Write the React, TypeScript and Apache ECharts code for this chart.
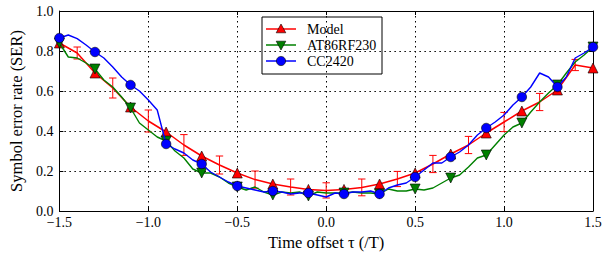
import React, { useEffect, useRef } from "react";
import * as echarts from "echarts";

// Model (every 0.1)
const modelTau = [-1.5, -1.4, -1.3, -1.2, -1.1, -1.0, -0.9, -0.8, -0.7, -0.6, -0.5, -0.4, -0.3, -0.2, -0.1, 0.0, 0.1, 0.2, 0.3, 0.4, 0.5, 0.6, 0.7, 0.8, 0.9, 1.0, 1.1, 1.2, 1.3, 1.4, 1.5];
const modelSer = [0.84, 0.79, 0.69, 0.615, 0.52, 0.45, 0.395, 0.33, 0.275, 0.23, 0.19, 0.157, 0.135, 0.12, 0.108, 0.103, 0.108, 0.118, 0.135, 0.16, 0.19, 0.235, 0.285, 0.33, 0.39, 0.445, 0.50, 0.545, 0.605, 0.73, 0.715];

// Error bars (half-widths) at even tenths
const errTau = [-1.4, -1.2, -1.0, -0.8, -0.6, -0.4, -0.2, 0.0, 0.2, 0.4, 0.6, 0.8, 1.0, 1.2, 1.4];
const errCenter = [0.79, 0.615, 0.45, 0.33, 0.23, 0.157, 0.12, 0.103, 0.118, 0.16, 0.235, 0.33, 0.445, 0.545, 0.73];
const errHalf = [0.03, 0.05, 0.055, 0.052, 0.045, 0.043, 0.04, 0.038, 0.042, 0.038, 0.043, 0.043, 0.048, 0.043, 0.028];

// Measured curves (every 0.05)
const measTau = [-1.5, -1.45, -1.4, -1.35, -1.3, -1.25, -1.2, -1.15, -1.1, -1.05, -1.0, -0.95, -0.9, -0.85, -0.8, -0.75, -0.7, -0.65, -0.6, -0.55, -0.5, -0.45, -0.4, -0.35, -0.3, -0.25, -0.2, -0.15, -0.1, -0.05, 0.0, 0.05, 0.1, 0.15, 0.2, 0.25, 0.3, 0.35, 0.4, 0.45, 0.5, 0.55, 0.6, 0.65, 0.7, 0.75, 0.8, 0.85, 0.9, 0.95, 1.0, 1.05, 1.1, 1.15, 1.2, 1.25, 1.3, 1.35, 1.4, 1.45, 1.5];
const atSer = [0.84, 0.77, 0.765, 0.74, 0.71, 0.655, 0.62, 0.57, 0.515, 0.44, 0.405, 0.37, 0.35, 0.30, 0.265, 0.21, 0.19, 0.19, 0.17, 0.14, 0.12, 0.105, 0.12, 0.095, 0.08, 0.095, 0.09, 0.095, 0.075, 0.095, 0.09, 0.09, 0.09, 0.095, 0.09, 0.09, 0.085, 0.11, 0.10, 0.10, 0.11, 0.105, 0.115, 0.14, 0.165, 0.18, 0.22, 0.265, 0.28, 0.33, 0.38, 0.42, 0.44, 0.495, 0.545, 0.59, 0.63, 0.69, 0.745, 0.78, 0.82];
const ccSer = [0.865, 0.88, 0.862, 0.83, 0.795, 0.765, 0.72, 0.67, 0.63, 0.60, 0.555, 0.505, 0.335, 0.31, 0.29, 0.255, 0.235, 0.195, 0.17, 0.145, 0.125, 0.115, 0.105, 0.095, 0.10, 0.095, 0.085, 0.09, 0.09, 0.08, 0.07, 0.09, 0.085, 0.095, 0.095, 0.10, 0.085, 0.115, 0.13, 0.14, 0.17, 0.205, 0.24, 0.24, 0.27, 0.295, 0.33, 0.38, 0.415, 0.445, 0.48, 0.53, 0.57, 0.62, 0.69, 0.67, 0.62, 0.67, 0.765, 0.79, 0.82];

// Marker positions
const markerTau = [-1.5, -1.3, -1.1, -0.9, -0.7, -0.5, -0.3, -0.1, 0.1, 0.3, 0.5, 0.7, 0.9, 1.1, 1.3, 1.5];

// Legend entries
const legendNames = ["Model", "AT86RF230", "CC2420"];
const legendColors = ["#ff0000", "#008000", "#0000ff"];
const legendMarkers = ["up", "down", "circle"];

const FONT = "Liberation Serif";

const isMarker = (t: number) => markerTau.some((m) => Math.abs(m - t) < 1e-6);

const toData = (tau: number[], ser: number[]) =>
  tau.map((t, i) => (isMarker(t) ? { value: [t, ser[i]] } : { value: [t, ser[i]], symbol: "none" }));

const fmt = (v: number) => v.toFixed(1).replace("-", "\u2212");

function legendGraphic() {
  const left = 262, top = 17, w = 120, h = 57;
  const children: any[] = [
    { type: "rect", shape: { x: left, y: top, width: w, height: h }, style: { fill: "#fff", stroke: "#000", lineWidth: 1 } },
  ];
  legendNames.forEach((name, i) => {
    const y = top + 12 + i * 16;
    const c = legendColors[i];
    const mx = 281;
    children.push({ type: "line", shape: { x1: 266, y1: y, x2: 296, y2: y }, style: { stroke: c, lineWidth: 1.5 } });
    const mk = legendMarkers[i];
    const ms = { fill: c, stroke: "#000", lineWidth: 0.6 };
    if (mk === "up") {
      children.push({ type: "polygon", shape: { points: [[mx, y - 5], [mx - 4.8, y + 3.8], [mx + 4.8, y + 3.8]] }, style: ms });
    } else if (mk === "down") {
      children.push({ type: "polygon", shape: { points: [[mx, y + 5], [mx - 4.8, y - 3.8], [mx + 4.8, y - 3.8]] }, style: ms });
    } else {
      children.push({ type: "circle", shape: { cx: mx, cy: y, r: 4.6 }, style: ms });
    }
    children.push({
      type: "text",
      x: 307,
      y: y + 0.5,
      style: { text: name, fill: "#000", font: `14px ${FONT}`, verticalAlign: "middle", align: "left" },
    });
  });
  return { type: "group", z: 100, children };
}

export default function App() {
  const ref = useRef<HTMLDivElement>(null);
  useEffect(() => {
    if (!ref.current) return;
    const chart = echarts.init(ref.current, null, { renderer: "svg" });
    const axisCommon = {
      axisLine: { show: true, onZero: false, lineStyle: { color: "#000", width: 1 } },
      axisTick: { show: true, inside: true, length: 4, lineStyle: { color: "#000" } },
    };
    const option: any = {
      animation: false,
      backgroundColor: "#fff",
      textStyle: { fontFamily: FONT },
      grid: { left: 50, top: 11, width: 543, height: 200, containLabel: false },
      graphic: [legendGraphic()],
      xAxis: [
        {
          type: "value",
          min: -1.5,
          max: 1.5,
          interval: 0.5,
          name: "Time offset \u03c4 (/T)",
          nameLocation: "middle",
          nameGap: 21,
          nameTextStyle: { fontFamily: FONT, fontSize: 16.5, color: "#000" },
          ...axisCommon,
          axisLabel: { fontFamily: FONT, fontSize: 14, lineHeight: 12, color: "#000", margin: 5, formatter: fmt },
          splitLine: { show: true, lineStyle: { color: "#000", type: [1.5, 3.5], width: 1 } },
        },
        {
          type: "value",
          min: -1.5,
          max: 1.5,
          interval: 0.5,
          position: "top",
          ...axisCommon,
          axisLabel: { show: false },
          splitLine: { show: false },
        },
      ],
      yAxis: [
        {
          type: "value",
          min: 0,
          max: 1,
          interval: 0.2,
          name: "Symbol error rate (SER)",
          nameLocation: "middle",
          nameGap: 26,
          nameTextStyle: { fontFamily: FONT, fontSize: 16.5, color: "#000" },
          ...axisCommon,
          axisLabel: { fontFamily: FONT, fontSize: 14, lineHeight: 12, color: "#000", margin: 6, formatter: fmt },
          splitLine: { show: true, lineStyle: { color: "#000", type: [1.5, 3.5], width: 1 } },
        },
        {
          type: "value",
          min: 0,
          max: 1,
          interval: 0.2,
          position: "right",
          ...axisCommon,
          axisLabel: { show: false },
          splitLine: { show: false },
        },
      ],
      series: [
        {
          name: "Model",
          type: "line",
          data: toData(modelTau, modelSer),
          symbol: "triangle",
          symbolSize: 10,
          showSymbol: true,
          color: "#ff0000",
          lineStyle: { color: "#ff0000", width: 1.5 },
          itemStyle: { color: "#ff0000", borderColor: "#000", borderWidth: 0.6 },
          z: 2,
        },
        {
          name: "ModelErr",
          type: "custom",
          data: errTau.map((t, i) => [t, errCenter[i] - errHalf[i], errCenter[i] + errHalf[i]]),
          encode: { x: 0, y: [1, 2] },
          z: 2,
          renderItem: (params: any, api: any) => {
            const x = api.value(0);
            const lo = api.coord([x, api.value(1)]);
            const hi = api.coord([x, api.value(2)]);
            const w = 3.7;
            const st = { stroke: "#ff0000", lineWidth: 1 };
            return {
              type: "group",
              children: [
                { type: "line", shape: { x1: lo[0], y1: lo[1], x2: hi[0], y2: hi[1] }, style: st },
                { type: "line", shape: { x1: lo[0] - w, y1: lo[1], x2: lo[0] + w, y2: lo[1] }, style: st },
                { type: "line", shape: { x1: hi[0] - w, y1: hi[1], x2: hi[0] + w, y2: hi[1] }, style: st },
              ],
            };
          },
        },
        {
          name: "AT86RF230",
          type: "line",
          data: toData(measTau, atSer),
          symbol: "triangle",
          symbolRotate: 180,
          symbolSize: 10,
          showSymbol: true,
          color: "#008000",
          lineStyle: { color: "#008000", width: 1.4 },
          itemStyle: { color: "#008000", borderColor: "#000", borderWidth: 0.6 },
          z: 3,
        },
        {
          name: "CC2420",
          type: "line",
          data: toData(measTau, ccSer),
          symbol: "circle",
          symbolSize: 9.5,
          showSymbol: true,
          color: "#0000ff",
          lineStyle: { color: "#0000ff", width: 1.4 },
          itemStyle: { color: "#0000ff", borderColor: "#000", borderWidth: 0.6 },
          z: 4,
        },
      ],
    };
    chart.setOption(option);
    return () => chart.dispose();
  }, []);
  return <div ref={ref} style={{ position: "absolute", left: 0, top: 0, width: 607, height: 256 }} />;
}
